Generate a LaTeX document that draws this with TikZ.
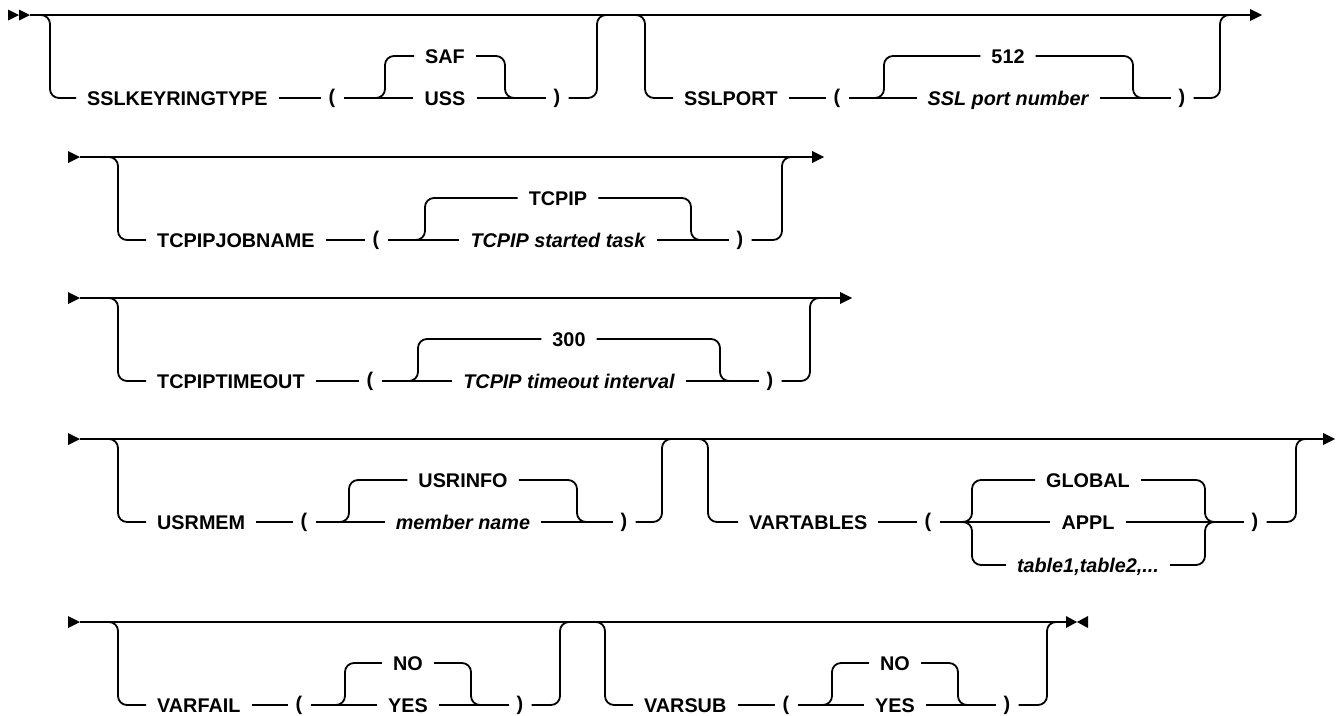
\documentclass[tikz,border=0pt]{standalone}
\usepackage{fontspec}
\setmainfont{Liberation Sans}
\begin{document}
\begin{tikzpicture}[x=1pt,y=-1pt,
  ln/.style={line width=1.8pt},
  rr/.style={line width=1.8pt, rounded corners=9pt},
  txt/.style={font=\fontsize{19.8}{24}\selectfont\bfseries, inner xsep=11pt, inner ysep=0pt, text height=14.2pt, text depth=0pt},
  itxt/.style={txt, font=\fontsize{19.8}{24}\selectfont\bfseries\itshape},
  kw/.style={txt, anchor=west},
  par/.style={txt, inner xsep=8pt, text height=12.4pt, text depth=2.2pt},
  tipfill/.style={fill=black}]
\useasboundingbox (0,0) rectangle (1338,715);

% ===== Row 1 =====
\fill[tipfill] (8,9.5)--(19,15)--(8,20.5)--cycle;
\fill[tipfill] (19,9.5)--(30,15)--(19,20.5)--cycle;
\coordinate (r1a) at (30,15);
\coordinate (r1z) at (1250,15);
\draw[ln] (r1a) -- (r1z);
\fill[tipfill] (1250,9)--(1262,15)--(1250,21)--cycle;

\node[kw] (k1) at (76,98) {SSLKEYRINGTYPE};
\node[par] (o1) at (332,98) {(};
\node[txt] (a1) at (445,56) {SAF};
\node[txt] (b1) at (445,98) {USS};
\node[par] (c1) at (557,98) {)};
\draw[rr] (41,15) -| (50,98) -- (k1.west);
\draw[ln] (k1.east) -- (o1.west);
\draw[ln] (o1.east) -- (b1.west);
\draw[rr] (376,98) -| (385,56) -- (a1.west);
\draw[rr] (a1.east) -- (505,56) |- (514,98);
\draw[ln] (b1.east) -- (c1.west);
\draw[rr] (c1.east) -- (597,98) |- (606,15);

\node[kw] (k2) at (673,98) {SSLPORT};
\node[par] (o2) at (837,98) {(};
\node[txt] (a2) at (1008,56) {512};
\node[itxt] (b2) at (1008,98) {SSL port number};
\node[par] (c2) at (1182,98) {)};
\draw[rr] (636,15) -| (645,98) -- (k2.west);
\draw[ln] (k2.east) -- (o2.west);
\draw[ln] (o2.east) -- (b2.west);
\draw[rr] (875,98) -| (884,56) -- (a2.west);
\draw[rr] (a2.east) -- (1133,56) |- (1142,98);
\draw[ln] (b2.east) -- (c2.west);
\draw[rr] (c2.east) -- (1220,98) |- (1229,15);

% ===== Row 2 =====
\fill[tipfill] (68,151)--(80,157)--(68,163)--cycle;
\coordinate (r2a) at (80,157);
\coordinate (r2z) at (812,157);
\draw[ln] (r2a) -- (r2z);
\fill[tipfill] (812,151)--(824,157)--(812,163)--cycle;

\node[kw] (k3) at (146,240) {TCPIPJOBNAME};
\node[par] (o3) at (376,240) {(};
\node[txt] (a3) at (558,198) {TCPIP};
\node[itxt] (b3) at (558,240) {TCPIP started task};
\node[par] (c3) at (740,240) {)};
\draw[rr] (109,157) -| (118,240) -- (k3.west);
\draw[ln] (k3.east) -- (o3.west);
\draw[ln] (o3.east) -- (b3.west);
\draw[rr] (416,240) -| (425,198) -- (a3.west);
\draw[rr] (a3.east) -- (691,198) |- (700,240);
\draw[ln] (b3.east) -- (c3.west);
\draw[rr] (c3.east) -- (782,240) |- (791,157);

% ===== Row 3 =====
\fill[tipfill] (68,292)--(80,298)--(68,304)--cycle;
\coordinate (r3a) at (80,298);
\coordinate (r3z) at (840,298);
\draw[ln] (r3a) -- (r3z);
\fill[tipfill] (840,292)--(852,298)--(840,304)--cycle;

\node[kw] (k4) at (146,381) {TCPIPTIMEOUT};
\node[par] (o4) at (370,381) {(};
\node[txt] (a4) at (569,339) {300};
\node[itxt] (b4) at (569,381) {TCPIP timeout interval};
\node[par] (c4) at (770,381) {)};
\draw[rr] (109,298) -| (118,381) -- (k4.west);
\draw[ln] (k4.east) -- (o4.west);
\draw[ln] (o4.east) -- (b4.west);
\draw[rr] (409,381) -| (418,339) -- (a4.west);
\draw[rr] (a4.east) -- (720,339) |- (729,381);
\draw[ln] (b4.east) -- (c4.west);
\draw[rr] (c4.east) -- (810,381) |- (819,298);

% ===== Row 4 =====
\fill[tipfill] (68,433)--(80,439)--(68,445)--cycle;
\coordinate (r4a) at (80,439);
\coordinate (r4z) at (1323,439);
\draw[ln] (r4a) -- (r4z);
\fill[tipfill] (1323,433)--(1335,439)--(1323,445)--cycle;

\node[kw] (k5) at (146,522) {USRMEM};
\node[par] (o5) at (304,522) {(};
\node[txt] (a5) at (463,480) {USRINFO};
\node[itxt] (b5) at (463,522) {member name};
\node[par] (c5) at (624,522) {)};
\draw[rr] (109,439) -| (118,522) -- (k5.west);
\draw[ln] (k5.east) -- (o5.west);
\draw[ln] (o5.east) -- (b5.west);
\draw[rr] (340,522) -| (349,480) -- (a5.west);
\draw[rr] (a5.east) -- (577,480) |- (586,522);
\draw[ln] (b5.east) -- (c5.west);
\draw[rr] (c5.east) -- (662,522) |- (671,439);

\node[kw] (k6) at (738,522) {VARTABLES};
\node[par] (o6) at (928,522) {(};
\node[txt] (a6) at (1088,480) {GLOBAL};
\node[txt] (b6) at (1088,522) {APPL};
\node[itxt] (d6) at (1088,565) {table1,table2,...};
\node[par] (c6) at (1255,522) {)};
\draw[rr] (699,439) -| (708,522) -- (k6.west);
\draw[ln] (k6.east) -- (o6.west);
\draw[ln] (o6.east) -- (b6.west);
\draw[rr] (963,522) -| (972,480) -- (a6.west);
\draw[rr] (963,522) -| (972,565) -- (d6.west);
\draw[rr] (a6.east) -- (1205,480) |- (1214,522);
\draw[rr] (d6.east) -- (1205,565) |- (1214,522);
\draw[ln] (b6.east) -- (c6.west);
\draw[rr] (c6.east) -- (1296,522) |- (1305,439);

% ===== Row 5 =====
\fill[tipfill] (68,616)--(80,622)--(68,628)--cycle;
\coordinate (r5a) at (80,622);
\coordinate (r5z) at (1067,622);
\draw[ln] (r5a) -- (r5z);
\fill[tipfill] (1066,616)--(1077,622)--(1066,628)--cycle;
\fill[tipfill] (1088,616)--(1077,622)--(1088,628)--cycle;

\node[kw] (k7) at (146,705) {VARFAIL};
\node[par] (o7) at (299,705) {(};
\node[txt] (a7) at (408,663) {NO};
\node[txt] (b7) at (408,705) {YES};
\node[par] (c7) at (520,705) {)};
\draw[rr] (109,622) -| (118,705) -- (k7.west);
\draw[ln] (k7.east) -- (o7.west);
\draw[ln] (o7.east) -- (b7.west);
\draw[rr] (336,705) -| (345,663) -- (a7.west);
\draw[rr] (a7.east) -- (471,663) |- (480,705);
\draw[ln] (b7.east) -- (c7.west);
\draw[rr] (c7.east) -- (560,705) |- (569,622);

\node[kw] (k8) at (633,705) {VARSUB};
\node[par] (o8) at (786,705) {(};
\node[txt] (a8) at (895,663) {NO};
\node[txt] (b8) at (895,705) {YES};
\node[par] (c8) at (1007,705) {)};
\draw[rr] (596,622) -| (605,705) -- (k8.west);
\draw[ln] (k8.east) -- (o8.west);
\draw[ln] (o8.east) -- (b8.west);
\draw[rr] (823,705) -| (832,663) -- (a8.west);
\draw[rr] (a8.east) -- (958,663) |- (967,705);
\draw[ln] (b8.east) -- (c8.west);
\draw[rr] (c8.east) -- (1047,705) |- (1056,622);
\end{tikzpicture}
\end{document}
